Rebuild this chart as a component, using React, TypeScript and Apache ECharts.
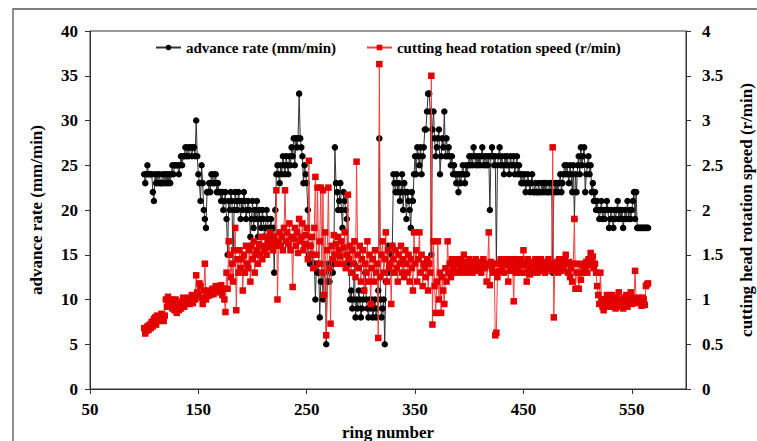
import React, { useEffect, useRef } from "react";
import * as echarts from "echarts";

const startRing = 100;
const xTickLabels = [50, 150, 250, 350, 450, 550];

// advance rate (mm/min), rings 100..565
const advanceRate = [
  24,23,24,25,24,24,24,24,22,21,
  24,23,24,23,24,23,23,24,23,24,
  23,24,23,24,23,24,25,24,25,25,
  25,25,24,25,26,25,26,26,27,26,
  27,26,27,27,26,27,27,26,30,26,
  24,23,21,25,23,20,19,18,22,22,
  23,22,24,23,24,23,24,22,23,22,
  22,21,22,20,21,22,19,15,21,20,
  22,21,14,20,22,21,20,22,21,19,
  21,20,22,21,19,20,21,20,17,19,
  21,18,20,19,21,17,20,19,18,20,
  19,17,18,20,19,16,18,19,17,18,
  13,20,24,25,24,23,25,24,26,25,
  24,26,25,24,26,25,27,26,28,25,
  28,27,28,33,28,27,26,23,25,24,
  23,20,15,14,16,14,15,14,10,14,
  13,14,8,12,14,10,13,14,5,12,
  14,12,14,13,13,14,27,23,22,20,
  21,23,20,18,22,21,20,19,14,14,
  10,11,9,10,14,8,10,9,11,10,
  8,9,10,11,13,10,9,8,10,9,
  10,8,9,10,8,9,11,28,10,8,
  9,10,5,12,13,16,14,13,15,16,
  24,23,22,24,22,23,21,22,24,20,
  23,22,19,22,21,20,18,22,21,24,
  26,24,27,26,25,27,24,26,27,29,
  29,31,33,33,31,15,29,31,28,26,
  27,28,29,24,26,28,27,31,26,28,
  26,27,26,25,26,24,25,24,23,24,
  22,24,23,24,25,24,23,25,24,25,
  26,25,26,25,27,26,25,26,25,26,
  25,26,27,25,26,25,26,25,26,20,
  26,27,26,25,26,14,25,26,27,25,
  26,25,24,26,25,26,25,24,26,25,
  25,26,24,25,26,24,25,24,23,24,
  23,24,22,23,24,23,22,23,24,22,
  22,23,22,22,23,22,22,23,22,23,
  22,23,22,22,23,22,23,13,22,23,
  22,23,22,23,24,22,23,24,25,24,
  25,24,23,25,24,22,25,19,24,22,
  25,26,24,27,25,26,27,22,24,25,
  26,24,25,22,23,21,22,20,21,20,
  19,20,21,19,20,19,20,21,20,18,
  19,20,19,18,20,19,20,21,19,20,
  19,20,18,19,20,19,21,19,20,19,
  20,21,22,19,22,18,18,18,18,18,
  18,18,18,18,18,18
];

// cutting head rotation speed (r/min), rings 100..565
const rotationSpeed = [
  0.68,0.62,0.65,0.70,0.66,0.72,0.68,0.75,0.70,0.78,
  0.80,0.72,0.82,0.76,0.80,0.78,0.84,0.80,0.76,0.82,
  1.00,0.92,1.03,0.95,0.98,1.00,0.90,0.95,0.88,1.00,
  0.85,0.92,0.88,0.95,0.90,0.98,1.02,0.92,0.96,1.00,
  0.98,1.02,0.95,1.00,1.05,0.96,1.02,1.00,1.27,1.08,
  1.05,1.18,1.15,1.02,0.95,1.10,1.40,1.00,1.08,1.04,
  1.10,1.05,1.08,1.12,1.06,1.10,1.15,1.08,1.12,1.14,
  1.10,1.16,1.05,1.12,1.00,0.86,1.30,1.12,1.65,1.50,
  1.25,1.40,1.20,1.55,1.80,0.88,1.45,1.30,1.55,1.35,
  1.45,1.10,1.50,1.30,1.60,1.40,1.35,1.55,1.20,1.60,
  1.45,1.65,1.30,1.50,1.55,1.40,1.62,1.50,1.70,1.45,
  1.60,1.55,1.70,1.50,1.65,1.58,1.75,1.62,1.68,1.55,
  1.70,1.60,2.22,1.00,1.65,1.75,1.60,1.70,1.55,1.80,
  2.22,1.65,1.75,1.62,1.85,1.55,1.70,1.14,1.68,1.80,
  1.60,1.75,1.52,1.90,1.65,1.70,1.85,1.55,1.62,1.72,
  1.80,1.45,2.55,1.60,1.50,1.70,1.35,1.80,2.37,1.50,
  2.25,1.40,1.65,2.25,1.30,2.22,1.05,1.75,0.60,1.55,
  2.25,1.35,0.73,1.60,1.45,1.72,1.50,1.62,1.40,1.70,
  1.55,1.48,1.65,1.40,1.58,1.75,1.35,1.50,2.17,1.45,
  1.60,1.30,1.55,1.40,1.65,1.25,2.54,1.50,1.35,1.60,
  1.20,1.45,1.55,1.10,1.40,1.30,1.65,1.20,1.50,0.95,
  1.35,1.45,1.20,1.55,1.30,1.40,0.57,3.63,1.25,1.50,
  1.65,1.30,1.45,1.75,1.20,1.55,1.35,1.40,0.95,1.60,
  1.45,1.30,1.55,1.35,1.20,1.50,1.40,1.60,1.30,1.45,
  1.25,1.55,1.40,1.30,1.50,1.20,1.45,1.35,1.10,1.75,
  1.40,1.55,1.20,1.45,1.75,1.30,1.50,1.15,1.40,1.35,
  1.25,1.45,1.10,1.40,1.30,3.50,0.72,1.65,1.15,0.85,
  1.20,1.65,1.00,1.30,0.85,1.25,1.10,0.95,1.35,1.20,
  1.65,1.30,1.40,1.25,1.45,1.35,1.30,1.40,1.45,1.30,
  1.40,1.35,1.45,1.30,1.40,1.50,1.35,1.42,1.30,1.40,
  1.45,1.35,1.40,1.30,1.42,1.38,1.45,1.32,1.40,1.35,
  1.42,1.30,1.40,1.45,1.35,1.40,1.20,1.38,1.75,1.16,
  1.42,1.35,1.30,1.40,0.60,0.63,1.25,1.32,1.40,1.45,
  1.35,1.42,1.30,1.45,1.38,1.40,1.20,1.45,1.32,1.40,
  1.35,0.98,1.45,1.30,1.40,1.35,1.42,1.30,1.45,1.38,
  1.55,1.30,1.40,1.20,1.45,1.35,1.28,1.42,1.38,1.30,
  1.40,1.45,1.35,1.30,1.42,1.38,1.45,1.32,1.40,1.35,
  1.30,1.42,1.38,1.45,1.35,1.40,1.32,2.70,0.80,1.40,
  1.35,1.42,1.30,1.45,1.38,1.32,1.40,1.35,1.45,1.50,
  1.40,1.30,1.42,1.25,1.35,1.20,1.40,1.90,1.12,1.30,
  1.40,1.12,1.30,1.22,1.38,1.30,1.40,1.35,1.42,1.30,
  1.45,1.38,1.52,1.42,1.48,1.35,1.40,1.30,1.15,1.05,
  0.95,1.30,1.00,0.92,0.88,1.00,0.95,1.05,0.92,1.00,
  0.98,0.92,1.05,0.95,1.00,0.90,1.02,0.94,1.08,0.92,
  1.00,0.95,0.90,1.02,0.96,1.05,0.92,1.00,0.98,1.08,
  0.95,1.02,0.98,1.32,1.00,0.96,1.02,0.98,1.00,0.93,
  1.02,1.00,0.94,1.15,1.17,1.18
];

const FONT = "Liberation Serif";

export default function App() {
  const ref = useRef<HTMLDivElement>(null);
  useEffect(() => {
    document.body.style.margin = "0";
    document.body.style.overflow = "hidden";
    document.documentElement.style.overflow = "hidden";
    if (!ref.current) return;
    const chart = echarts.init(ref.current, null, { renderer: "svg", width: 757, height: 441 });
    const axisLine = { show: true, lineStyle: { color: "#333", width: 1 } };
    const labelStyle = { fontFamily: FONT, fontWeight: "bold" as const, fontSize: 17, color: "#000" };
    const nameStyle = { fontFamily: FONT, fontWeight: "bold" as const, fontSize: 17, color: "#000" };
    chart.setOption({
      animation: false,
      backgroundColor: "#fff",
      graphic: [
        {
          type: "rect",
          shape: { x: 13, y: 9, width: 800, height: 500 },
          style: { fill: "none", stroke: "#555", lineWidth: 1.3 },
          z: -1,
          silent: true,
        },
      ],
      grid: {
        left: 90,
        right: 71,
        top: 31,
        bottom: 52,
        show: true,
        borderColor: "#333",
        borderWidth: 1,
        backgroundColor: "transparent",
        containLabel: false,
        outerBoundsMode: "none",
      },
      legend: {
        left: 150,
        top: 35,
        itemGap: 30,
        itemWidth: 25,
        itemHeight: 7,
        textStyle: { fontFamily: FONT, fontWeight: "bold", fontSize: 15, color: "#000" },
        data: ["advance rate (mm/min)", "cutting head rotation speed (r/min)"],
      },
      xAxis: {
        type: "value",
        min: 50,
        max: 600,
        name: "ring number",
        nameLocation: "middle",
        nameGap: 35,
        nameTextStyle: nameStyle,
        axisLine,
        axisTick: { show: true, inside: false, length: 5, lineStyle: { color: "#333" }, customValues: xTickLabels },
        axisLabel: { ...labelStyle, margin: 12, customValues: xTickLabels },
        splitLine: { show: false },
      },
      yAxis: [
        {
          type: "value",
          min: 0,
          max: 40,
          interval: 5,
          name: "advance rate (mm/min)",
          nameLocation: "middle",
          nameGap: 45,
          nameTextStyle: nameStyle,
          axisLine,
          axisTick: { show: true, length: 5, lineStyle: { color: "#333" } },
          axisLabel: { ...labelStyle, margin: 12 },
          splitLine: { show: false },
        },
        {
          type: "value",
          min: 0,
          max: 4,
          interval: 0.5,
          position: "right",
          name: "cutting head rotation speed (r/min)",
          nameLocation: "middle",
          nameGap: 52,
          nameTextStyle: nameStyle,
          axisLine,
          axisTick: { show: true, length: 5, lineStyle: { color: "#333" } },
          axisLabel: { ...labelStyle, margin: 16 },
          splitLine: { show: false },
        },
      ],
      series: [
        {
          name: "advance rate (mm/min)",
          type: "line",
          yAxisIndex: 0,
          data: advanceRate.map((v, i) => [startRing + i, v]),
          symbol: "circle",
          symbolSize: 6.5,
          showAllSymbol: true,
          itemStyle: { color: "#000" },
          lineStyle: { color: "#333", width: 1 },
          z: 2,
        },
        {
          name: "cutting head rotation speed (r/min)",
          type: "line",
          yAxisIndex: 1,
          data: rotationSpeed.map((v, i) => [startRing + i, v]),
          symbol: "rect",
          symbolSize: 6.5,
          showAllSymbol: true,
          itemStyle: { color: "#e30000" },
          lineStyle: { color: "#f04040", width: 1 },
          z: 3,
        },
      ],
    });
    return () => chart.dispose();
  }, []);
  return (
    <div
      ref={ref}
      style={{ position: "fixed", left: 0, top: 0, width: 757, height: 441, background: "#fff" }}
    />
  );
}
